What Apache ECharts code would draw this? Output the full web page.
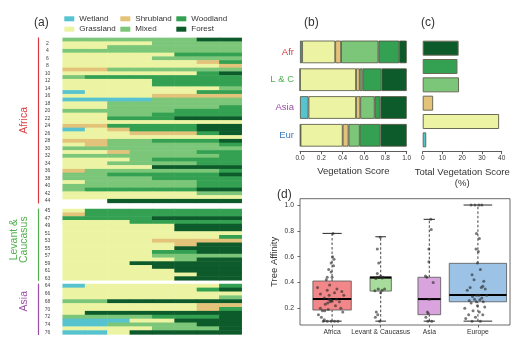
<!DOCTYPE html>
<html>
<head>
<meta charset="utf-8">
<script src="https://cdn.jsdelivr.net/npm/echarts@6/dist/echarts.min.js"></script>
<style>
html, body { margin: 0; padding: 0; background: #fff; }
#chart { width: 519px; height: 337px; }
</style>
</head>
<body>
<div id="chart"></div>
<script>
// ---------- vegetation classes ----------
const vegTypes = ['Wetland', 'Grassland', 'Shrubland', 'Mixed', 'Woodland', 'Forest'];
// one letter per class in the site strings below; '-' means no record
const vegCodes = ['w', 'g', 's', 'm', 'o', 'f'];

// ---------- (a) site records: 8 slices per site ----------
const africaRows = [
  'mmmmmmff', 'ggggmmmm', 'ggmmmmmm', 'mmmmmmmm', 'gggggooo', 'ggggmmmm',
  'ggggggso', 'gggggggs', 'ssmmmmmm', 'ggggggof', 'mooooooo', 'ggggoooo',
  'ggggoooo', 'gggggggm', 'wgggggoo', 'ggggssss', 'wwwwmmmm', 'ggmmmmmm',
  'ggmmmmmo', 'mmmmmooo', 'ggmmoooo', 'ggooofff', 'gggggggg', 'ssooooff',
  'wgsoooff', 'gggsssof', 'gggggggg', 'ssmmooof', 'gsmmmmmo', 'mmmmmmmm',
  'ggsmmmoo', 'mmmmmmmo', 'gggmoooo', 'ggmmmmoo', 'ggggffff', 'smmmmmmo',
  'mmooooof', 'mmmmoooo', 'gmmmmmoo', 'mmmmmmoo', 'moooooff', 'ggggggmm',
  'gggggggg', '--ffffff'
];
const levantRows = [
  'gooooooo', 'sooooooo', 'ooooffff', 'gggooooo', 'gggggfff', 'gggggfff',
  'gggggggg', 'gggggggo', 'ggggssss', 'gggggsff', 'gggggfff', 'ggggooff',
  'ggggmmmm', 'gggggmff', 'gggfffff', 'ggggffff', 'gggggfff', 'ggggggff',
  'gggggfff'
];
const asiaRows = [
  'wggggggo', 'ggggggof', 'gggggggg', 'gggggggm', 'mmffffff', 'ggggggss',
  'ggggggso', 'gfffffff', 'mmmmooof', 'wwwggfff', 'wwmmmmff', 'ggggmmmf',
  'wwgfffff'
];
const africaTicks = [2, 4, 6, 8, 10, 12, 14, 16, 18, 20, 22, 24, 26, 28, 30, 32, 34, 36, 38, 40, 42, 44];
const levantTicks = [45, 47, 49, 51, 53, 55, 57, 59, 61, 63];
const asiaTicks = [64, 66, 68, 70, 72, 74, 76];

// ---------- (b) mean vegetation score per region ----------
const regionsShort = ['Afr', 'L & C', 'Asia', 'Eur'];
const scoreWetland   = [0.02, 0.0, 0.08, 0.005];
const scoreGrassland = [0.31, 0.525, 0.445, 0.395];
const scoreShrubland = [0.055, 0.035, 0.04, 0.055];
const scoreMixed     = [0.35, 0.025, 0.135, 0.105];
const scoreWoodland  = [0.195, 0.18, 0.055, 0.195];
const scoreForest    = [0.07, 0.235, 0.245, 0.245];

// ---------- (c) total vegetation score (%) ----------
const totalScore = [1.8, 38.7, 5.3, 18.4, 17.6, 18.2];

// ---------- (d) tree affinity ----------
const boxGroups = ['Africa', 'Levant & Caucasus', 'Asia', 'Europe'];
const boxMin    = [0.10, 0.10, 0.10, 0.10];
const boxQ1     = [0.186, 0.333, 0.15, 0.25];
const boxMedian = [0.271, 0.437, 0.271, 0.302];
const boxQ3     = [0.411, 0.444, 0.44, 0.548];
const boxMax    = [0.78, 0.754, 0.889, 1.0];
const africaPoints = [
  [1.02, 0.78], [1.01, 0.60], [1.04, 0.58], [0.98, 0.55], [1.03, 0.53], [0.93, 0.50],
  [0.98, 0.48], [0.90, 0.44], [1.00, 0.44], [0.88, 0.42], [0.95, 0.38], [0.70, 0.36],
  [1.10, 0.35], [0.90, 0.34], [1.20, 0.33], [0.76, 0.31], [1.05, 0.32], [1.24, 0.30],
  [0.84, 0.28], [0.93, 0.27], [0.96, 0.265], [0.99, 0.26], [1.09, 0.27], [1.15, 0.25],
  [0.91, 0.24], [1.00, 0.255], [0.96, 0.25], [0.86, 0.23], [1.07, 0.22], [0.76, 0.20],
  [0.80, 0.18], [0.85, 0.18], [0.92, 0.19], [0.72, 0.15], [0.78, 0.13], [0.84, 0.11],
  [0.98, 0.10], [0.90, 0.10], [1.05, 0.10], [1.12, 0.10], [0.82, 0.10], [1.18, 0.20],
  [1.22, 0.17], [0.94, 0.30]
];
const levantPoints = [
  [1.99, 0.75], [1.93, 0.66], [1.96, 0.55], [1.93, 0.47], [2.00, 0.45], [1.96, 0.44],
  [2.05, 0.44], [1.92, 0.44], [2.03, 0.435], [1.90, 0.43], [2.08, 0.35], [1.95, 0.35],
  [2.03, 0.34], [1.88, 0.335], [2.00, 0.32], [1.91, 0.17], [1.94, 0.15], [1.89, 0.13],
  [1.98, 0.10]
];
const asiaPoints = [
  [3.03, 0.89], [3.04, 0.81], [2.99, 0.66], [2.99, 0.56], [2.92, 0.45], [2.95, 0.44],
  [3.08, 0.40], [3.00, 0.27], [2.96, 0.17], [2.98, 0.16], [2.93, 0.13], [3.05, 0.10],
  [2.97, 0.10]
];
const europePoints = [
  [3.86, 1.0], [3.94, 1.0], [4.02, 1.0], [4.08, 1.0], [3.97, 0.78], [4.03, 0.74],
  [3.96, 0.66], [4.01, 0.64], [3.99, 0.55], [4.05, 0.50], [3.88, 0.46], [3.92, 0.42],
  [4.12, 0.41], [4.10, 0.37], [3.84, 0.36], [4.07, 0.36], [3.78, 0.34], [4.15, 0.35],
  [3.97, 0.30], [4.02, 0.30], [3.89, 0.29], [4.08, 0.28], [3.93, 0.27], [4.04, 0.265],
  [3.82, 0.26], [3.97, 0.25], [4.11, 0.25], [3.86, 0.24], [3.73, 0.20], [3.90, 0.18],
  [4.03, 0.17], [3.81, 0.15], [4.10, 0.15], [3.95, 0.13], [3.88, 0.10], [4.05, 0.10],
  [3.75, 0.12], [4.14, 0.21], [3.99, 0.22], [4.18, 0.30]
];

// ---------- styling ----------
const FONT = '"Liberation Sans", Arial, sans-serif';
const vegColors = ['#56c3cf', '#ecf4a4', '#e3c27a', '#7bc678', '#33a052', '#0d5a2b'];
const regionColors = ['#dc3a3f', '#52b04f', '#9b4ea5', '#3a7cbf'];
const boxFill = ['#f2878a', '#a7dc9c', '#d9a3de', '#9cc3e6'];
const boxWidthPx = [38.4, 21.3, 22.7, 57.3];
const slots = ['1', '2', '3', '4', '5', '6', '7', '8'];

// ---------- (a) heatmap building ----------
function heatData(rows) {
  const out = [];
  rows.forEach((code, r) => {
    for (let c = 0; c < code.length; c++) {
      const k = vegCodes.indexOf(code[c]);
      if (k >= 0) out.push([c, r, k]);
    }
  });
  return out;
}
const regionBlocks = [
  { rows: africaRows, first: 1, ticks: africaTicks, name: 'Africa', color: regionColors[0],
    grid: { top: 37.9, height: 165 }, namePad: [0, 0, 0, 0] },
  { rows: levantRows, first: 45, ticks: levantTicks, name: 'Levant &\nCaucasus', color: regionColors[1],
    grid: { top: 209, height: 71.3 }, namePad: [0, 0, 0, 10] },
  { rows: asiaRows, first: 64, ticks: asiaTicks, name: 'Asia', color: regionColors[2],
    grid: { top: 284, height: 50.4 }, namePad: [0, 0, 0, 16] }
];

const grids = [], xAxes = [], yAxes = [], series = [];
regionBlocks.forEach((blk, g) => {
  const names = blk.rows.map((_, i) => String(blk.first + i));
  grids.push({ left: 62.7, width: 179, top: blk.grid.top, height: blk.grid.height,
    containLabel: false, outerBoundsMode: 'none' });
  xAxes.push({ gridIndex: g, type: 'category', data: slots, show: false });
  yAxes.push({
    gridIndex: g, type: 'category', data: names, inverse: true, position: 'left', offset: 24.4,
    axisLine: { show: true, lineStyle: { color: blk.color, width: 1.2 } },
    axisTick: { show: false }, splitLine: { show: false },
    axisLabel: {
      inside: true, margin: 9.2, align: 'center', fontSize: 5, color: '#444', fontFamily: FONT,
      interval: 0, formatter: v => (blk.ticks.indexOf(+v) >= 0 ? v : '')
    },
    name: blk.name, nameLocation: 'middle', nameRotate: 90, nameGap: 9, nameMoveOverlap: false,
    nameTextStyle: { color: blk.color, fontSize: 10.5, fontFamily: FONT, lineHeight: 10, padding: blk.namePad }
  });
  series.push({
    type: 'heatmap', xAxisIndex: g, yAxisIndex: g, data: heatData(blk.rows),
    emphasis: { disabled: true }, itemStyle: { borderWidth: 0 }
  });
});

// ---------- (b) stacked vegetation score ----------
grids.push({ left: 300, top: 38, width: 106.7, height: 111.2, containLabel: false, outerBoundsMode: 'none' });
xAxes.push({
  gridIndex: 3, type: 'value', min: 0, max: 1, interval: 0.2, offset: 2.5,
  axisLine: { show: true, lineStyle: { color: '#333', width: 0.8 } },
  axisTick: { show: true, length: 2.5, lineStyle: { color: '#333', width: 0.8 } },
  axisLabel: { fontSize: 6.5, margin: 3, color: '#333', fontFamily: FONT, formatter: v => v.toFixed(1) },
  splitLine: { show: false },
  name: 'Vegetation Score', nameLocation: 'middle', nameGap: 15, nameMoveOverlap: false,
  nameTextStyle: { fontSize: 9.5, color: '#333', fontFamily: FONT }
});
yAxes.push({
  gridIndex: 3, type: 'category', data: regionsShort, inverse: true,
  axisLine: { show: false }, axisTick: { show: false },
  axisLabel: { margin: 6, fontSize: 9.5, fontFamily: FONT, color: (v, i) => regionColors[i] }
});
const regionScores = [scoreWetland, scoreGrassland, scoreShrubland, scoreMixed, scoreWoodland, scoreForest];
regionScores.forEach((vals, k) => {
  series.push({
    type: 'bar', name: vegTypes[k], xAxisIndex: 3, yAxisIndex: 3, stack: 'score',
    data: vals, barWidth: 22.6,
    itemStyle: { color: vegColors[k], borderColor: '#4f4f3c', borderWidth: 0.8 },
    emphasis: { disabled: true }
  });
});

// ---------- (c) total vegetation score ----------
grids.push({ left: 422.7, top: 39, width: 79, height: 110, containLabel: false, outerBoundsMode: 'none' });
xAxes.push({
  gridIndex: 4, type: 'value', min: 0, max: 40, interval: 10, offset: 2.7,
  axisLine: { show: true, lineStyle: { color: '#333', width: 0.8 } },
  axisTick: { show: true, length: 2.5, lineStyle: { color: '#333', width: 0.8 } },
  axisLabel: { fontSize: 6.5, margin: 3, color: '#333', fontFamily: FONT },
  splitLine: { show: false },
  name: 'Total Vegetation Score\n(%)', nameLocation: 'middle', nameGap: 15, nameMoveOverlap: false,
  nameTextStyle: { fontSize: 9.5, color: '#333', fontFamily: FONT, lineHeight: 11 }
});
yAxes.push({
  gridIndex: 4, type: 'category', data: vegTypes,
  axisLine: { show: false }, axisTick: { show: false }, axisLabel: { show: false }
});
series.push({
  type: 'bar', name: 'Total', xAxisIndex: 4, yAxisIndex: 4, barWidth: 15,
  data: totalScore.map((v, i) => ({ value: v, itemStyle: { color: vegColors[i] } })),
  itemStyle: { borderColor: '#6a6a55', borderWidth: 1 },
  emphasis: { disabled: true }
});

// ---------- (d) tree affinity box plots ----------
grids.push({ left: 300, top: 198.7, width: 210, height: 126.3, show: true,
  borderColor: '#444', borderWidth: 0.8, backgroundColor: 'rgba(0,0,0,0)',
  containLabel: false, outerBoundsMode: 'none' });
const groupPos = [1, 2, 3, 4];
const yTicks = [0.2, 0.4, 0.6, 0.8, 1.0];
xAxes.push({
  gridIndex: 5, type: 'value', min: 0.34, max: 4.66,
  axisLine: { show: false }, splitLine: { show: false },
  axisTick: { show: true, customValues: groupPos, length: 2.5, lineStyle: { color: '#444', width: 0.8 } },
  axisLabel: { customValues: groupPos, formatter: v => boxGroups[Math.round(v) - 1],
    fontSize: 6.8, margin: 4, color: '#333', fontFamily: FONT }
});
yAxes.push({
  gridIndex: 5, type: 'value', min: 0.07, max: 1.049,
  axisLine: { show: false }, splitLine: { show: false },
  axisTick: { show: true, customValues: yTicks, length: 2.5, lineStyle: { color: '#444', width: 0.8 } },
  axisLabel: { customValues: yTicks, formatter: v => v.toFixed(1),
    fontSize: 6.8, margin: 6, color: '#333', fontFamily: FONT },
  name: 'Tree Affinity', nameLocation: 'middle', nameRotate: 90, nameGap: 21, nameMoveOverlap: false,
  nameTextStyle: { fontSize: 9.5, color: '#333', fontFamily: FONT }
});
series.push({
  type: 'custom', xAxisIndex: 5, yAxisIndex: 5,
  data: groupPos.map((p, i) => [p, boxMin[i], boxQ1[i], boxMedian[i], boxQ3[i], boxMax[i]]),
  encode: { x: 0, y: [1, 2, 3, 4, 5] },
  renderItem: (params, api) => {
    const i = params.dataIndex;
    const x = api.value(0);
    const pMin = api.coord([x, api.value(1)]);
    const pQ1 = api.coord([x, api.value(2)]);
    const pMed = api.coord([x, api.value(3)]);
    const pQ3 = api.coord([x, api.value(4)]);
    const pMax = api.coord([x, api.value(5)]);
    const cx = pMin[0], half = boxWidthPx[i] / 2, cap = boxWidthPx[i] / 4;
    const dash = { stroke: '#111', lineWidth: 0.8, lineDash: [2.5, 2] };
    const solid = { stroke: '#111', lineWidth: 0.9 };
    return {
      type: 'group', children: [
        { type: 'line', shape: { x1: cx, y1: pQ3[1], x2: cx, y2: pMax[1] }, style: dash },
        { type: 'line', shape: { x1: cx, y1: pMin[1], x2: cx, y2: pQ1[1] }, style: dash },
        { type: 'line', shape: { x1: cx - cap, y1: pMax[1], x2: cx + cap, y2: pMax[1] }, style: solid },
        { type: 'line', shape: { x1: cx - cap, y1: pMin[1], x2: cx + cap, y2: pMin[1] }, style: solid },
        { type: 'rect', shape: { x: cx - half, y: pQ3[1], width: 2 * half, height: pQ1[1] - pQ3[1] },
          style: { fill: boxFill[i], stroke: '#555', lineWidth: 0.8 } },
        { type: 'line', shape: { x1: cx - half, y1: pMed[1], x2: cx + half, y2: pMed[1] },
          style: { stroke: '#000', lineWidth: 2 } }
      ]
    };
  },
  z: 2
});
series.push({
  type: 'scatter', xAxisIndex: 5, yAxisIndex: 5, symbolSize: 3,
  data: [].concat(africaPoints, levantPoints, asiaPoints, europePoints),
  itemStyle: { color: 'rgba(45,45,45,0.8)' }, emphasis: { disabled: true }, z: 3
});

// ---------- chart ----------
const chart = echarts.init(document.getElementById('chart'), null, { renderer: 'canvas' });
chart.setOption({
  animation: false,
  backgroundColor: '#fff',
  textStyle: { fontFamily: FONT },
  title: [
    { text: '(a)', left: 29, top: 12, textStyle: { fontSize: 12, fontWeight: 'normal', color: '#333', fontFamily: FONT } },
    { text: '(b)', left: 299, top: 12, textStyle: { fontSize: 12, fontWeight: 'normal', color: '#333', fontFamily: FONT } },
    { text: '(c)', left: 416, top: 12, textStyle: { fontSize: 12, fontWeight: 'normal', color: '#333', fontFamily: FONT } },
    { text: '(d)', left: 272, top: 184, textStyle: { fontSize: 12, fontWeight: 'normal', color: '#333', fontFamily: FONT } }
  ],
  legend: {
    left: 64.3, top: 14.8, width: 175, padding: 0, itemGap: 2.4,
    itemWidth: 10, itemHeight: 5, icon: 'rect', selectedMode: false,
    data: ['Wetland', 'Shrubland', 'Woodland', 'Grassland', 'Mixed', 'Forest'],
    itemStyle: { borderWidth: 0 },
    textStyle: { fontSize: 8, color: '#333', width: 38.6, lineHeight: 8, fontFamily: FONT }
  },
  visualMap: {
    type: 'piecewise', show: false, dimension: 2, seriesIndex: [0, 1, 2],
    pieces: vegTypes.map((n, i) => ({ value: i, color: vegColors[i] }))
  },
  grid: grids,
  xAxis: xAxes,
  yAxis: yAxes,
  series: series
});
</script>
</body>
</html>
